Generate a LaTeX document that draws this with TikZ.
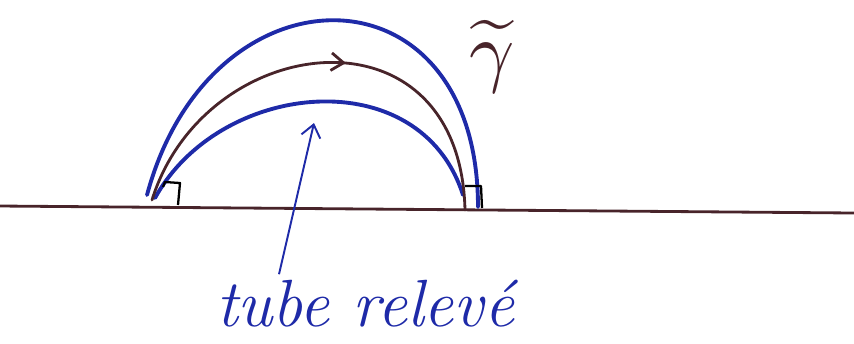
\documentclass[tikz,border=0pt]{standalone}
\usetikzlibrary{arrows.meta,decorations.markings}
\definecolor{inkblue}{RGB}{30,42,168}
\definecolor{inkbrown}{RGB}{72,36,42}

\begin{document}
\begin{tikzpicture}[x=0.02cm, y=-0.02cm,
		tube/.style={inkblue, line width=2.2pt, line cap=round},
		geod/.style={inkbrown, line width=1.6pt, line cap=round},
		corner/.style={black, line width=1.3pt, line join=round},
		pointer/.style={inkblue, line width=1.1pt, -{Straight Barb[length=7pt, width=11pt]}}]
	
	\useasboundingbox (0,0) rectangle (854,343);
	
	% ── Suelo ───────────────────────────────────────────────────────────
	\draw[geod] (0,206) -- (854,213);
	
	% ── Tubo: borde exterior e interior ─────────────────────────────────
	\draw[tube] (147,195) .. controls (210,-40) and (478,-40) .. (478,207);
	\draw[tube] (155,198) .. controls (220,80) and (420,60) .. (463,195);
	
	% ── Curva central con flecha ────────────────────────────────────────
	\draw[geod, decoration={markings,
			mark=at position 0.55 with {\arrow{Straight Barb[length=7pt, width=10pt]}}},
		postaction={decorate}]
	(152,200) .. controls (205,30) and (460,0) .. (465,210);
	
	% ── Angulos rectos ──────────────────────────────────────────────────
	\draw[corner] (163,187) -- (165,182) -- (180,183) -- (178,205);
	\draw[corner] (465,186) -- (481,186) -- (482,208);
	
	% ── Etiquetas ───────────────────────────────────────────────────────
	\node[inkbrown, scale=4.5] (gam) at (492,57) {$\widetilde{\gamma}$};
	\node[inkblue] (lbl) at (365,304) {\fontsize{38}{42}\selectfont\itshape tube relevé};
	
	\coordinate (tip) at (314,123);
	\coordinate (tail) at (279,0);
	\draw[pointer] (lbl.north -| tail) -- (tip);
	
\end{tikzpicture}
\end{document}
